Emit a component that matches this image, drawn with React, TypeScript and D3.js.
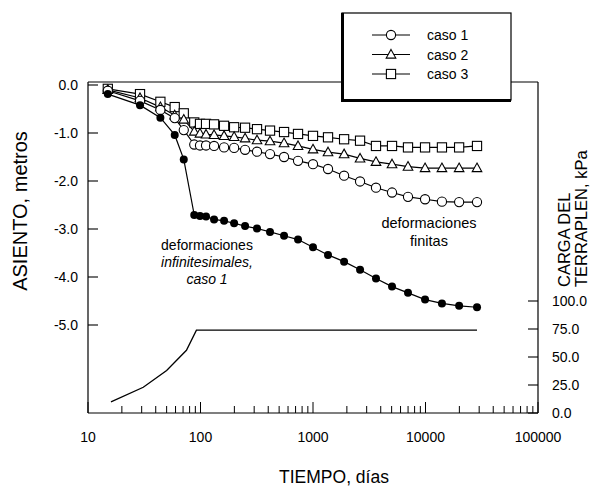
import React from 'react';
import { scaleLog, scaleLinear, line } from 'd3';

// time in days, shared by all settlement series
const times = [15, 29, 44, 59, 71, 88, 99, 112, 132, 162, 199, 249, 318, 415, 553, 736, 1000, 1360, 1890, 2620, 3630, 5040, 6990, 9910, 14000, 19900, 28700];

// asiento (m)
const infinitesimal = [-0.19, -0.42, -0.68, -1.04, -1.55, -2.71, -2.73, -2.74, -2.80, -2.83, -2.88, -2.94, -2.99, -3.06, -3.14, -3.22, -3.38, -3.54, -3.68, -3.85, -4.03, -4.20, -4.33, -4.47, -4.55, -4.60, -4.63];
const caso1 = [-0.12, -0.33, -0.52, -0.69, -0.94, -1.24, -1.26, -1.26, -1.27, -1.30, -1.31, -1.35, -1.39, -1.44, -1.50, -1.58, -1.65, -1.75, -1.89, -2.01, -2.14, -2.24, -2.33, -2.38, -2.43, -2.44, -2.44];
const caso2 = [-0.10, -0.27, -0.46, -0.63, -0.72, -0.97, -1.01, -1.03, -1.04, -1.06, -1.08, -1.11, -1.15, -1.17, -1.21, -1.27, -1.34, -1.40, -1.44, -1.53, -1.60, -1.65, -1.70, -1.73, -1.73, -1.73, -1.73];
const caso3 = [-0.08, -0.19, -0.35, -0.46, -0.59, -0.78, -0.81, -0.81, -0.82, -0.85, -0.88, -0.89, -0.92, -0.95, -0.98, -1.02, -1.06, -1.09, -1.13, -1.16, -1.27, -1.27, -1.30, -1.30, -1.30, -1.30, -1.27];

// carga del terraplen (kPa)
const loadTimes = [16, 31, 50, 75, 92, 28700];
const loadValues = [10, 23, 38, 56, 74, 74];

const leftTicks = [0, -1, -2, -3, -4, -5];
const rightTicks = [0, 25, 50, 75, 100];
const xMajor = [10, 100, 1000, 10000, 100000];
const legendLabels = ['caso 1', 'caso 2', 'caso 3'];

const W = 591, H = 488;
const x0 = 88, x1 = 538, yTop = 82, yBot = 413;
const font = 'Liberation Sans, Arial, Helvetica, sans-serif';

const x = scaleLog().domain([10, 100000]).range([x0, x1]);
const y = scaleLinear().domain([0, -5]).range([85, 325]);
const yLoad = scaleLinear().domain([0, 100]).range([yBot, 301]);

const minorTicks: number[] = [];
for (let d = 10; d < 100000; d *= 10) {
  for (let k = 2; k <= 9; k++) minorTicks.push(d * k);
}

const path = (vals: number[]) =>
  line<number>().x((_, i) => x(times[i])).y(v => y(v))(vals) || '';

const Marker = ({ kind, cx, cy }: { kind: string; cx: number; cy: number }) => {
  if (kind === 'circle') return <circle cx={cx} cy={cy} r={4.6} fill="white" stroke="black" strokeWidth={1.1} />;
  if (kind === 'filled') return <circle cx={cx} cy={cy} r={4} fill="black" />;
  if (kind === 'square') return <rect x={cx - 4.6} y={cy - 4.6} width={9.2} height={9.2} fill="white" stroke="black" strokeWidth={1.1} />;
  return <path d={`M${cx},${cy - 5} L${cx + 4.8},${cy + 3.6} L${cx - 4.8},${cy + 3.6} Z`} fill="white" stroke="black" strokeWidth={1.1} />;
};

const series = [
  { vals: caso3, kind: 'square' },
  { vals: caso2, kind: 'triangle' },
  { vals: caso1, kind: 'circle' },
  { vals: infinitesimal, kind: 'filled' },
];

const loadPath = line<number>().x((_, i) => x(loadTimes[i])).y(v => yLoad(v))(loadValues) || '';

export default function App() {
  return (
    <svg width={W} height={H} style={{ position: 'absolute', left: 0, top: 0, background: 'white' }} fontFamily={font}>
      <rect width={W} height={H} fill="white" />
      {/* frame */}
      <line x1={x0} y1={yTop} x2={x1} y2={yTop} stroke="black" strokeWidth={1.2} />
      <line x1={x0} y1={yTop} x2={x0} y2={yBot} stroke="black" strokeWidth={1.2} />
      <line x1={x1} y1={yTop} x2={x1} y2={yBot} stroke="black" strokeWidth={1.2} />
      <line x1={x0} y1={yBot} x2={x1} y2={yBot} stroke="black" strokeWidth={1.2} />

      {/* left axis */}
      {leftTicks.map(t => (
        <g key={t}>
          <line x1={x0} x2={x0 + 10} y1={y(t)} y2={y(t)} stroke="black" strokeWidth={1.1} />
          <text x={78} y={y(t) + 5} textAnchor="end" fontSize={14}>{t === 0 ? '0.0' : `-${Math.abs(t).toFixed(1)}`}</text>
        </g>
      ))}
      {/* right axis */}
      {rightTicks.map(t => (
        <g key={t}>
          <line x1={x1 - 10} x2={x1} y1={yLoad(t)} y2={yLoad(t)} stroke="black" strokeWidth={1.1} />
          <text x={552} y={yLoad(t) + 5} fontSize={14}>{t.toFixed(1)}</text>
        </g>
      ))}
      {/* bottom axis */}
      {minorTicks.map(t => (
        <line key={t} x1={x(t)} x2={x(t)} y1={yBot} y2={yBot - 7} stroke="black" strokeWidth={1} />
      ))}
      {xMajor.map(t => (
        <g key={t}>
          <line x1={x(t)} x2={x(t)} y1={yBot} y2={yBot - 11} stroke="black" strokeWidth={1} />
          <text x={x(t)} y={442} textAnchor="middle" fontSize={14}>{t}</text>
        </g>
      ))}

      {/* axis titles */}
      <text transform="translate(27,211) rotate(-90)" textAnchor="middle" fontSize={20}>ASIENTO, metros</text>
      <text transform="translate(570,287) rotate(-90)" textAnchor="start" fontSize={16.5}>CARGA DEL</text>
      <text transform="translate(587,287) rotate(-90)" textAnchor="start" fontSize={16.5}>TERRAPLEN, kPa</text>
      <text x={334} y={483} textAnchor="middle" fontSize={17.5}>TIEMPO, días</text>

      {/* load curve */}
      <path d={loadPath} fill="none" stroke="black" strokeWidth={1.3} />

      {/* settlement series */}
      {series.map(s => (
        <path key={s.kind} d={path(s.vals)} fill="none" stroke="black" strokeWidth={1.2} />
      ))}
      {series.map(s => (
        <g key={s.kind}>
          {s.vals.map((v, i) => <Marker key={i} kind={s.kind} cx={x(times[i])} cy={y(v)} />)}
        </g>
      ))}

      {/* annotations */}
      <text x={207} y={250} textAnchor="middle" fontSize={14}>deformaciones</text>
      <text x={207} y={267} textAnchor="middle" fontSize={14} fontStyle="italic">infinitesimales,</text>
      <text x={207} y={284} textAnchor="middle" fontSize={14} fontStyle="italic">caso 1</text>
      <text x={429} y={228} textAnchor="middle" fontSize={14.5}>deformaciones</text>
      <text x={429} y={246} textAnchor="middle" fontSize={14.5}>finitas</text>

      {/* legend */}
      <rect x={342} y={13} width={169} height={87} fill="white" stroke="black" strokeWidth={1.2} />
      <line x1={342.5} y1={13} x2={342.5} y2={101} stroke="black" strokeWidth={3} />
      <line x1={341} y1={100.5} x2={511} y2={100.5} stroke="black" strokeWidth={3} />
      {legendLabels.map((lbl, i) => {
        const ly = 35 + i * 19.5;
        const kind = ['circle', 'triangle', 'square'][i];
        return (
          <g key={lbl}>
            <line x1={372} x2={410} y1={ly} y2={ly} stroke="black" strokeWidth={1.1} />
            <Marker kind={kind} cx={391} cy={ly} />
            <text x={427} y={ly + 5} fontSize={14}>{lbl}</text>
          </g>
        );
      })}
    </svg>
  );
}
